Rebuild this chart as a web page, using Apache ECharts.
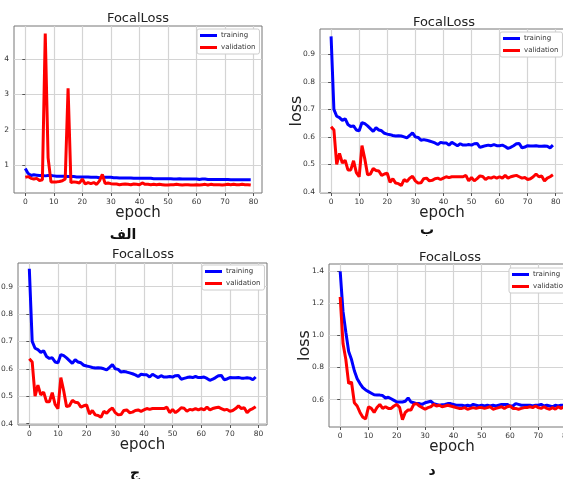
<!DOCTYPE html>
<html><head><meta charset="utf-8">
<script src="https://cdn.jsdelivr.net/npm/echarts@6/dist/echarts.min.js"></script>
<style>html,body{margin:0;padding:0;background:#fff}#c{width:563px;height:479px}</style>
</head><body><div id="c"></div>
<script>
// ---- data ----
const xTicks = [0,10,20,30,40,50,60,70,80];
const yTicksA = [1,2,3,4];
const yTicksB = [0.4,0.5,0.6,0.7,0.8,0.9];
const yTicksD = [0.6,0.8,1.0,1.2,1.4];
const panelLabels = ['الف','ب','ج','د'];

const trainA = [
0.90,0.76,0.70,0.72,0.71,0.70,0.70,0.69,0.70,0.70,
0.69,0.68,0.68,0.68,0.68,0.67,0.67,0.67,0.66,0.66,
0.66,0.66,0.66,0.65,0.65,0.65,0.64,0.65,0.65,0.65,
0.65,0.64,0.64,0.63,0.63,0.63,0.63,0.63,0.62,0.62,
0.62,0.62,0.62,0.62,0.62,0.61,0.61,0.61,0.61,0.61,
0.61,0.61,0.60,0.60,0.61,0.60,0.60,0.60,0.60,0.60,
0.60,0.59,0.60,0.60,0.59,0.59,0.59,0.59,0.59,0.59,
0.59,0.59,0.58,0.58,0.58,0.58,0.58,0.58,0.58,0.58];
const valA = [
0.65,0.67,0.62,0.60,0.62,0.56,0.58,4.72,1.20,0.52,
0.52,0.52,0.53,0.55,0.60,3.17,0.50,0.52,0.51,0.49,
0.60,0.46,0.50,0.47,0.50,0.45,0.55,0.73,0.47,0.49,
0.47,0.46,0.46,0.44,0.45,0.46,0.45,0.44,0.46,0.45,
0.44,0.49,0.45,0.45,0.44,0.45,0.44,0.45,0.44,0.43,
0.43,0.44,0.44,0.45,0.44,0.43,0.44,0.44,0.43,0.43,
0.44,0.43,0.44,0.45,0.43,0.45,0.44,0.44,0.44,0.43,
0.44,0.45,0.44,0.45,0.44,0.44,0.45,0.44,0.44,0.43];
const trainB = [
0.965,0.700,0.675,0.670,0.660,0.666,0.645,0.638,0.640,0.625,
0.622,0.652,0.648,0.640,0.630,0.620,0.633,0.625,0.622,0.613,
0.610,0.608,0.605,0.603,0.604,0.603,0.600,0.596,0.605,0.615,
0.600,0.598,0.588,0.590,0.588,0.585,0.582,0.578,0.572,0.580,
0.578,0.578,0.570,0.580,0.574,0.568,0.575,0.570,0.570,0.572,
0.570,0.575,0.576,0.562,0.565,0.568,0.570,0.568,0.572,0.568,
0.568,0.570,0.565,0.558,0.562,0.568,0.575,0.576,0.560,0.563,
0.568,0.567,0.567,0.568,0.566,0.566,0.567,0.566,0.560,0.570];
const valB = [
0.637,0.625,0.500,0.540,0.505,0.515,0.480,0.480,0.513,0.470,
0.455,0.568,0.520,0.462,0.465,0.485,0.478,0.476,0.460,0.465,
0.468,0.435,0.448,0.432,0.430,0.423,0.445,0.438,0.450,0.457,
0.440,0.432,0.433,0.448,0.450,0.440,0.442,0.448,0.450,0.445,
0.450,0.455,0.452,0.455,0.455,0.455,0.455,0.455,0.460,0.440,
0.452,0.440,0.448,0.458,0.456,0.445,0.452,0.450,0.455,0.450,
0.455,0.450,0.460,0.450,0.455,0.458,0.460,0.455,0.450,0.452,
0.445,0.448,0.455,0.465,0.455,0.458,0.440,0.450,0.455,0.462];
const trainD = [
1.40,1.15,1.02,0.90,0.85,0.78,0.73,0.70,0.675,0.66,
0.65,0.64,0.63,0.628,0.628,0.625,0.61,0.615,0.605,0.595,
0.585,0.585,0.585,0.59,0.61,0.585,0.58,0.575,0.575,0.57,
0.58,0.585,0.59,0.575,0.57,0.565,0.568,0.57,0.575,0.575,
0.57,0.565,0.565,0.565,0.56,0.565,0.56,0.57,0.565,0.56,
0.565,0.56,0.565,0.56,0.565,0.56,0.565,0.57,0.57,0.57,
0.56,0.56,0.575,0.57,0.565,0.565,0.565,0.565,0.56,0.565,
0.565,0.57,0.56,0.565,0.56,0.555,0.565,0.56,0.565,0.565];
const valD = [
1.24,0.95,0.85,0.70,0.71,0.58,0.56,0.52,0.49,0.48,
0.555,0.545,0.52,0.55,0.57,0.545,0.555,0.545,0.545,0.56,
0.57,0.55,0.475,0.52,0.535,0.535,0.57,0.575,0.56,0.55,
0.54,0.55,0.555,0.57,0.56,0.565,0.555,0.56,0.565,0.56,
0.555,0.55,0.545,0.545,0.55,0.54,0.545,0.55,0.545,0.55,
0.55,0.545,0.55,0.555,0.54,0.545,0.55,0.555,0.545,0.555,
0.56,0.545,0.545,0.54,0.545,0.55,0.55,0.555,0.55,0.56,
0.55,0.545,0.555,0.545,0.54,0.55,0.54,0.555,0.545,0.555];

// ---- chart ----
const FONT = 'DejaVu Sans';
const panels = [
  {grid:{left:14,top:26,width:248,height:167}, ymin:0.205, ymax:4.935, yt:yTicksA, fmt:v=>String(v), train:trainA, val:valA, ylabel:null,
   title:{x:138,y:18}, legend:{left:197,top:29}, xname:13, label:{x:123,y:235}},
  {grid:{left:320,top:29,width:244,height:164}, ymin:0.396, ymax:0.992, yt:yTicksB, fmt:v=>v.toFixed(1), train:trainB, val:valB, ylabel:15,
   title:{x:444,y:22}, legend:{left:500,top:32}, xname:13, label:{x:427,y:230}},
  {grid:{left:18,top:263,width:249,height:162}, ymin:0.395, ymax:0.986, yt:yTicksB, fmt:v=>v.toFixed(1), train:trainB, val:valB, ylabel:null,
   title:{x:143,y:254}, legend:{left:202,top:265}, xname:13, label:{x:135,y:473}},
  {grid:{left:329,top:264,width:246,height:163}, ymin:0.429, ymax:1.446, yt:yTicksD, fmt:v=>v.toFixed(1), train:trainD, val:valD, ylabel:16,
   title:{x:450,y:257}, legend:{left:509,top:268}, xname:13, label:{x:432,y:471}},
];

const option = {backgroundColor:'#fff', animation:false, textStyle:{fontFamily:FONT},
  title:[], grid:[], xAxis:[], yAxis:[], legend:[], series:[], graphic:[]};

const tickLabelStyle = {fontSize:7.5, color:'#333', fontFamily:FONT};
panels.forEach((p,i)=>{
  option.title.push({text:'FocalLoss', left:p.title.x, top:p.title.y - 6, textAlign:'center', padding:0,
    textStyle:{fontSize:13, fontWeight:'normal', color:'#222', fontFamily:FONT}});
  option.grid.push(Object.assign({show:true, borderColor:'#777', borderWidth:1, backgroundColor:'#fff',
    containLabel:false, outerBoundsMode:'none'}, p.grid));
  option.xAxis.push({type:'value', gridIndex:i, min:-3.95, max:82.95,
    name:'epoch', nameLocation:'middle', nameGap:p.xname, nameMoveOverlap:false,
    nameTextStyle:{fontSize:15, color:'#222', fontFamily:FONT},
    axisLine:{show:false},
    axisTick:{show:true, length:3, customValues:xTicks, lineStyle:{color:'#555'}},
    axisLabel:Object.assign({customValues:xTicks, margin:5}, tickLabelStyle),
    splitLine:{show:true, lineStyle:{color:'#d4d4d4', width:1.2}}});
  const ya = {type:'value', gridIndex:i, min:p.ymin, max:p.ymax,
    axisLine:{show:false},
    axisTick:{show:true, length:3, customValues:p.yt, lineStyle:{color:'#555'}},
    axisLabel:Object.assign({customValues:p.yt, margin:5, formatter:p.fmt}, tickLabelStyle),
    splitLine:{show:true, lineStyle:{color:'#d4d4d4', width:1.2}}};
  if (p.ylabel !== null) {
    Object.assign(ya, {name:'loss', nameLocation:'middle', nameGap:p.ylabel, nameMoveOverlap:false,
      nameTextStyle:{fontSize:16, color:'#222', fontFamily:FONT}});
  }
  option.yAxis.push(ya);
  option.legend.push({orient:'vertical', left:p.legend.left, top:p.legend.top,
    data:['training','validation'], icon:'rect', itemWidth:17, itemHeight:3, itemGap:5,
    padding:[3,4,3,3], borderColor:'#ccc', borderWidth:1, borderRadius:2, backgroundColor:'#fff',
    textStyle:{fontSize:7, color:'#333', fontFamily:FONT, padding:[0,0,0,-1]}});
  option.series.push({name:'training', type:'line', xAxisIndex:i, yAxisIndex:i, showSymbol:false,
    data:p.train.map((v,k)=>[k,v]), lineStyle:{color:'#0000ff', width:3}, itemStyle:{color:'#0000ff'}, z:3});
  option.series.push({name:'validation', type:'line', xAxisIndex:i, yAxisIndex:i, showSymbol:false,
    data:p.val.map((v,k)=>[k,v]), lineStyle:{color:'#ff0000', width:3}, itemStyle:{color:'#ff0000'}, z:4});
  option.graphic.push({type:'text', x:p.label.x, y:p.label.y, z:100,
    style:{text:panelLabels[i], font:'bold 14px "DejaVu Sans"', fill:'#111', align:'center', verticalAlign:'middle'}});
});

const chart = echarts.init(document.getElementById('c'), null, {renderer:'canvas'});
chart.setOption(option);
</script></body></html>
